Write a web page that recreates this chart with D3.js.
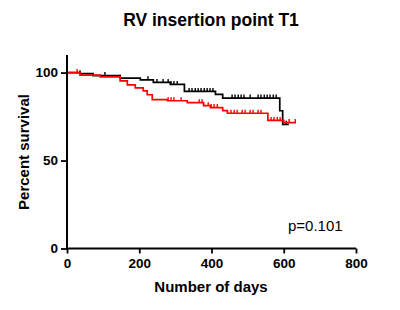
<!DOCTYPE html>
<html>
<head>
<meta charset="utf-8">
<script src="https://cdn.jsdelivr.net/npm/d3@7"></script>
<style>
  body { margin: 0; background: #fff; }
  text { font-family: Arial, "Liberation Sans", sans-serif; }
</style>
</head>
<body>
<svg id="chart" width="400" height="310"></svg>
<script>
// Kaplan-Meier steps (day, percent surviving)
const blackDays = [0, 36, 72, 147, 203, 239, 286, 325, 411, 431, 589, 597, 614];
const blackSurv = [100, 99.4, 98.3, 96.8, 95.9, 94.4, 93.3, 89.3, 87.6, 85.5, 78.3, 70.6, 70.6];
const redDays = [0, 36, 92, 147, 167, 189, 211, 222, 236, 278, 333, 378, 397, 431, 444, 556, 600, 634];
const redSurv = [100, 98.6, 97.6, 95.3, 93.0, 91.3, 89.6, 87.4, 84.6, 84.0, 82.9, 81.2, 80.1, 78.4, 76.9, 72.8, 71.6, 71.6];

// censored observations (days)
const blackCensor = [36, 105, 147, 224, 249, 266, 280, 288, 296, 305, 338, 346, 355, 363, 371, 380,
  388, 396, 404, 457, 465, 474, 482, 490, 507, 529, 537, 546, 554, 562, 571, 579, 607];
const redCensor = [28, 280, 288, 296, 316, 366, 374, 391, 399, 407, 416, 454, 463, 471, 485, 493,
  507, 515, 529, 537, 565, 573, 582, 590, 615, 632];

const xTicks = [0, 200, 400, 600, 800];
const yTicks = [0, 50, 100];
const title = "RV insertion point T1";
const pLabel = "p=0.101";

const svg = d3.select("#chart");

const x = d3.scaleLinear().domain([0, 800]).range([67, 356]);
const y = d3.scaleLinear().domain([0, 110]).range([248.5, 55]);

// step value at a given day
function survAt(days, surv, d) {
    let v = surv[0];
    days.forEach((dd, i) => { if (dd <= d) v = surv[i]; });
    return v;
}

function drawCurve(days, surv, censor, color) {
    const pts = days.map((d, i) => ({d: d, s: surv[i]}));
    const line = d3.line()
        .x(p => x(p.d))
        .y(p => y(p.s))
        .curve(d3.curveStepAfter);
    svg.append("path")
        .attr("d", line(pts))
        .attr("fill", "none")
        .attr("stroke", color)
        .attr("stroke-width", 1.7);

    svg.selectAll(null)
        .data(censor)
        .enter().append("line")
        .attr("x1", d => x(d)).attr("x2", d => x(d))
        .attr("y1", d => y(survAt(days, surv, d)) - 3.5)
        .attr("y2", d => y(survAt(days, surv, d)))
        .attr("stroke", color)
        .attr("stroke-width", 1.4);
}

drawCurve(blackDays, blackSurv, blackCensor, "#000");
drawCurve(redDays, redSurv, redCensor, "#ff0000");

// axes
const xAxis = svg.append("g")
    .attr("transform", `translate(0,${y(0)})`)
    .call(d3.axisBottom(x).tickValues(xTicks).tickSize(5).tickPadding(5));
const yAxis = svg.append("g")
    .attr("transform", `translate(${x(0)},0)`)
    .call(d3.axisLeft(y).tickValues(yTicks).tickSize(6).tickPadding(3));

[xAxis, yAxis].forEach(g => {
    g.select(".domain").attr("stroke", "#000").attr("stroke-width", 2);
    g.selectAll(".tick line").attr("stroke", "#000").attr("stroke-width", 1.8);
    g.selectAll(".tick text")
        .attr("fill", "#000")
        .style("font-size", "13.5px")
        .style("font-weight", "bold")
        .style("font-family", "Arial, 'Liberation Sans', sans-serif");
});
// plain line domains (no end caps from the tick size)
xAxis.select(".domain").attr("d", `M${x(0)},0H${x(800)}`);
yAxis.select(".domain").attr("d", `M0,${y(0)}V${y(110)}`);

svg.append("text")
    .attr("x", 211).attr("y", 26)
    .attr("text-anchor", "middle")
    .style("font-size", "17.5px").style("font-weight", "bold")
    .text(title);

svg.append("text")
    .attr("x", 211).attr("y", 292)
    .attr("text-anchor", "middle")
    .style("font-size", "15px").style("font-weight", "bold")
    .text("Number of days");

svg.append("text")
    .attr("transform", "translate(29,152) rotate(-90)")
    .attr("text-anchor", "middle")
    .style("font-size", "15px").style("font-weight", "bold")
    .text("Percent survival");

svg.append("text")
    .attr("x", 288).attr("y", 231)
    .style("font-size", "15px")
    .text(pLabel);
</script>
</body>
</html>
